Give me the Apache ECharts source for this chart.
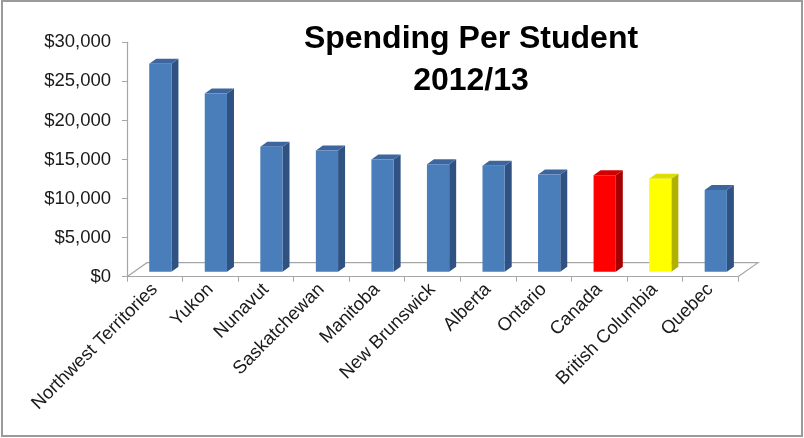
<!DOCTYPE html>
<html>
<head>
<meta charset="utf-8">
<script src="https://cdn.jsdelivr.net/npm/echarts@6/dist/echarts.min.js"></script>
<style>
  html, body { margin: 0; padding: 0; background: #fff; }
  #chart { width: 804px; height: 438px; }
</style>
</head>
<body>
<div id="chart"></div>
<script>
// 数据
const categories = ['Northwest Territories', 'Yukon', 'Nunavut', 'Saskatchewan', 'Manitoba',
  'New Brunswick', 'Alberta', 'Ontario', 'Canada', 'British Columbia', 'Quebec'];
const spending = [26600, 22800, 16000, 15500, 14350, 13750, 13550, 12450, 12350, 11900, 10450];
const yTicks = [0, 5000, 10000, 15000, 20000, 25000, 30000];

// 柱子颜色 [正面, 侧面, 顶面]
const blue = ['#4a7ebb', '#2f5283', '#3d669e'];
const special = {
  'Canada': ['#ff0000', '#a80000', '#d40000'],
  'British Columbia': ['#ffff00', '#b0b000', '#dede00']
};

const font = "'Liberation Sans', Arial, sans-serif";

// 3D 柱体绘制
function renderBar(params, api) {
  const i = api.value(0);
  const v = api.value(1);
  const base = api.coord([i, 0]);
  const top = api.coord([i, v]);
  const band = api.size([1, 0])[0];
  const w = band * 0.4;
  const x0 = base[0] - w / 2 + band * 0.1;
  const x1 = x0 + w;
  const y0 = top[1] - 5;
  const y1 = base[1] - 5;
  const dx = 7, dy = -5;
  const c = special[categories[i]] || blue;
  return {
    type: 'group',
    children: [
      { type: 'polygon', shape: { points: [[x1, y1], [x1, y0], [x1 + dx, y0 + dy], [x1 + dx, y1 + dy]] }, style: { fill: c[1] } },
      { type: 'polygon', shape: { points: [[x0, y0], [x1, y0], [x1 + dx, y0 + dy], [x0 + dx, y0 + dy]] }, style: { fill: c[2] } },
      { type: 'rect', shape: { x: x0, y: y0, width: w, height: y1 - y0 }, style: { fill: c[0] } }
    ]
  };
}

// 地板边框
function renderFloor(params) {
  const cs = params.coordSys;
  const bx = cs.y + cs.height;
  const ddx = 20, ddy = -14;
  return {
    type: 'polyline',
    silent: true,
    shape: { points: [[cs.x, bx], [cs.x + ddx, bx + ddy], [cs.x + cs.width + ddx, bx + ddy], [cs.x + cs.width, bx]] },
    style: { stroke: '#a6a6a6', lineWidth: 1.2, fill: null }
  };
}

const myChart = echarts.init(document.getElementById('chart'));
const option = {
  animation: false,
  backgroundColor: '#fff',
  title: {
    text: 'Spending Per Student\n2012/13',
    left: 466,
    top: 13,
    textAlign: 'center',
    textStyle: { fontFamily: font, fontSize: 32, fontWeight: 'bold', color: '#000', lineHeight: 42 }
  },
  graphic: [{
    type: 'rect',
    silent: true,
    shape: { x: 2, y: 1, width: 800, height: 435 },
    style: { fill: null, stroke: '#9a9a9a', lineWidth: 2 }
  }],
  grid: { left: 127, right: 66, top: 42.3, bottom: 161.3 },
  xAxis: {
    type: 'category',
    data: categories,
    axisLine: { lineStyle: { color: '#a6a6a6', width: 1.2 } },
    axisTick: { show: true, length: 5, lineStyle: { color: '#a6a6a6' } },
    axisLabel: { rotate: 45, margin: 10, fontFamily: font, fontSize: 18.5, color: '#1a1a1a', interval: 0 }
  },
  yAxis: {
    type: 'value',
    min: yTicks[0],
    max: yTicks[yTicks.length - 1],
    interval: 5000,
    axisLine: { show: true, lineStyle: { color: '#a6a6a6', width: 1.2 } },
    axisTick: { show: true, length: 5, lineStyle: { color: '#a6a6a6' } },
    splitLine: { show: false },
    axisLabel: {
      margin: 16,
      fontFamily: font,
      fontSize: 18.5,
      color: '#1a1a1a',
      formatter: v => '$' + v.toLocaleString('en-US')
    }
  },
  series: [
    {
      type: 'custom',
      renderItem: renderFloor,
      data: [[0, 0]],
      silent: true,
      z: 1
    },
    {
      type: 'custom',
      renderItem: renderBar,
      data: spending.map((v, i) => [i, v]),
      z: 2
    }
  ]
};
myChart.setOption(option, true);
</script>
</body>
</html>
